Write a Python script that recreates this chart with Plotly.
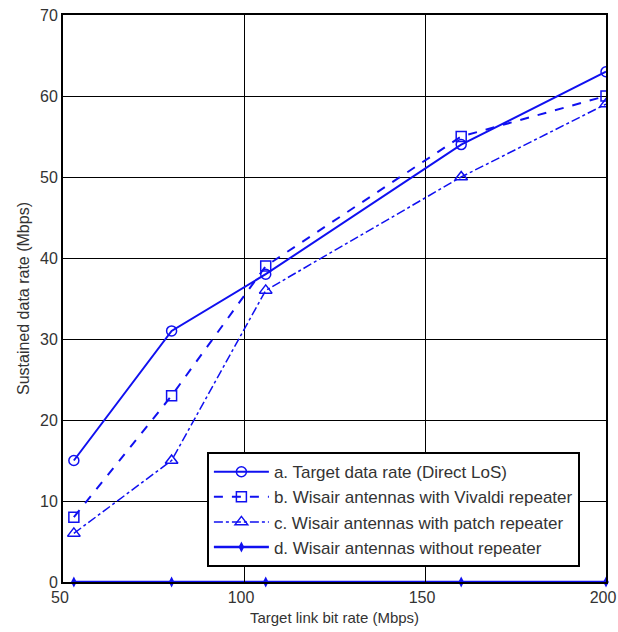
import plotly.graph_objects as go

x_vals = [53, 80, 106, 160, 200]
a_vals = [15, 31, 38, 54, 63]
b_vals = [8, 23, 39, 55, 60]
c_vals = [6, 15, 36, 50, 59]
d_vals = [0, 0, 0, 0, 0]

names = [
    "a. Target data rate (Direct LoS)",
    "b. Wisair antennas with Vivaldi repeater",
    "c. Wisair antennas with patch repeater",
    "d. Wisair antennas without repeater",
]
blue = "#1010F0"
font_family = "Liberation Sans, Arial"

fig = go.Figure()
fig.add_trace(go.Scatter(x=x_vals, y=a_vals, name=names[0], mode="lines+markers",
                         line=dict(color=blue, width=2, dash="solid"),
                         marker=dict(symbol="circle-open", size=10, color=blue, line=dict(width=1.5))))
fig.add_trace(go.Scatter(x=x_vals, y=b_vals, name=names[1], mode="lines+markers",
                         line=dict(color=blue, width=2, dash="dash"),
                         marker=dict(symbol="square-open", size=10, color=blue, line=dict(width=1.5))))
fig.add_trace(go.Scatter(x=x_vals, y=c_vals, name=names[2], mode="lines+markers",
                         line=dict(color=blue, width=1.5, dash="dashdot"),
                         marker=dict(symbol="triangle-up-open", size=11, color=blue, line=dict(width=1.5))))
fig.add_trace(go.Scatter(x=x_vals, y=d_vals, name=names[3], mode="lines+markers",
                         line=dict(color=blue, width=2.5, dash="solid"),
                         marker=dict(symbol="diamond-tall", size=8, color=blue), cliponaxis=False))

axis_common = dict(showline=True, linecolor="black", linewidth=2, mirror=True,
                   ticks="inside", ticklen=5, tickcolor="black",
                   showgrid=True, gridcolor="black", gridwidth=1,
                   zeroline=False, automargin=False, ticklabeloverflow="allow")

fig.update_xaxes(range=[50, 200], tickvals=[50, 100, 150, 200],
                 tickfont=dict(family=font_family, size=16, color="#333"),
                 ticklabelshift=-3,
                 title_text="Target link bit rate (Mbps)", title_standoff=7,
                 title_font=dict(family=font_family, size=15, color="#333"), **axis_common)
fig.update_yaxes(range=[0, 70], tickvals=[0, 10, 20, 30, 40, 50, 60, 70],
                 tickfont=dict(family=font_family, size=16, color="#333"),
                 title_text="Sustained data rate (Mbps)", title_standoff=6,
                 title_font=dict(family=font_family, size=16, color="#333"), **axis_common)

fig.update_layout(
    width=618, height=632,
    margin=dict(l=63, r=12, t=15, b=50),
    paper_bgcolor="white", plot_bgcolor="white",
    showlegend=True,
    legend=dict(x=0.265, y=0.229, xanchor="left", yanchor="top",
                bgcolor="white", bordercolor="black", borderwidth=2,
                font=dict(family=font_family, size=17, color="#333"),
                tracegroupgap=0, itemwidth=55),
)

fig.write_html("out.html", config={"displayModeBar": False},
               post_script="document.body.style.margin='0px';document.body.style.overflow='hidden';")
